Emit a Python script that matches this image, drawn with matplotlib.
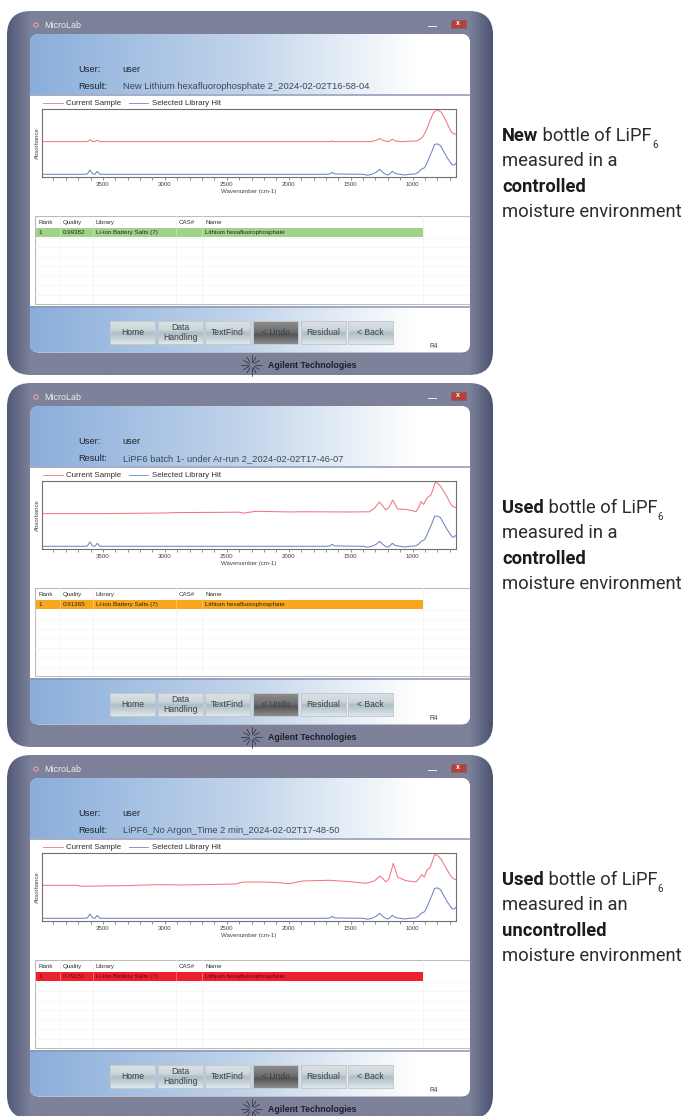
import numpy as np
import matplotlib
matplotlib.use("Agg")
import matplotlib.pyplot as plt
from matplotlib.colors import LinearSegmentedColormap
from matplotlib.patches import FancyBboxPatch, Rectangle, Circle
from matplotlib.ticker import MultipleLocator

W, H = 684, 1116

# spectra (wavenumber, absorbance on a 0-1 plot height)
hit_wn = [3992, 3700, 3650, 3625, 3605, 3585, 3565, 3546, 3525, 3400, 2200, 1700, 1665, 1650,
          1630, 1400, 1362, 1320, 1290, 1266, 1240, 1215, 1200, 1185, 1164, 1140, 1100, 1065,
          1030, 975, 950, 930, 903, 880, 863, 840, 823, 798, 775, 758, 718, 680, 665, 650]
hit_abs = [.044, .044, .044, .05, .108, .05, .044, .088, .044, .044, .044, .044, .05, .074,
           .05, .044, .03, .05, .08, .118, .07, .04, .034, .05, .088, .055, .044, .034,
           .044, .05, .08, .118, .142, .23, .304, .40, .485, .49, .465, .41, .28, .18, .18, .206]

red_wn_1 = [3992, 3640, 3620, 3605, 3585, 3565, 3546, 3525, 3400, 1660, 1650, 1640, 1340, 1300,
            1266, 1235, 1200, 1185, 1164, 1140, 1100, 970, 940, 917, 890, 863, 835, 809, 790,
            769, 750, 728, 690, 670, 650]
red_abs_1 = [.525, .525, .53, .554, .525, .53, .544, .525, .525, .525, .535, .525, .525, .54,
             .569, .54, .525, .535, .559, .535, .525, .534, .56, .598, .69, .819, .94, .99, .98,
             .956, .90, .82, .67, .64, .637]

red_wn_2 = [3992, 3500, 3000, 2900, 2500, 2400, 2360, 2300, 2269, 2100, 2000, 1900, 1500, 1350,
            1310, 1269, 1215, 1190, 1161, 1121, 1054, 973, 950, 933, 911, 887, 852, 817, 795,
            772, 731, 691, 670, 650]
red_abs_2 = [.525, .525, .534, .54, .544, .546, .532, .55, .559, .553, .549, .552, .549, .552,
             .60, .696, .578, .62, .725, .593, .588, .554, .62, .70, .66, .75, .80, .985, .97,
             .92, .80, .66, .625, .613]

red_wn_3 = [3992, 3700, 3688, 3300, 3070, 2855, 2600, 2425, 2371, 2210, 2100, 1995, 1887, 1672,
            1511, 1376, 1309, 1263, 1215, 1190, 1156, 1121, 1054, 973, 925, 906, 887, 858, 820,
            795, 772, 731, 691, 670, 650]
red_abs_3 = [.529, .529, .515, .525, .539, .534, .542, .549, .578, .578, .57, .554, .593, .603,
             .583, .559, .593, .667, .578, .63, .853, .647, .598, .578, .686, .65, .745, .794,
             .99, .96, .917, .784, .662, .625, .613]

red_wn = [red_wn_1, red_wn_2, red_wn_3]
red_abs = [red_abs_1, red_abs_2, red_abs_3]

results = ["New Lithium hexafluorophosphate 2_2024-02-02T16-58-04",
           "LiPF6 batch 1- under Ar-run 2_2024-02-02T17-46-07",
           "LiPF6_No Argon_Time 2 min_2024-02-02T17-48-50"]
qualities = ["0.99382", "0.91365", "0.79151"]
hit_colors = ["#a0d28a", "#f9a61c", "#ee1f2e"]
col_names = ["Rank", "Quality", "Library", "CAS#", "Name"]
hit_row = ["1", None, "Li-ion Battery Salts (7)", "", "Lithium hexafluorophosphate"]
buttons = ["Home", "Data\nHandling", "TextFind", "< Undo", "Residual", "< Back"]
side_bold1 = ["New", "Used", "Used"]
side_middle = ["measured in a", "measured in a", "measured in an"]
side_bold2 = ["controlled", "controlled", "uncontrolled"]

plt.rcParams["font.family"] = ["Liberation Sans", "DejaVu Sans"]

fig = plt.figure(figsize=(W / 100, H / 100), dpi=100)
ax = fig.add_axes([0, 0, 1, 1])
ax.set_axis_off()
ax.set_xlim(0, W)
ax.set_ylim(H, 0)
ax.set_autoscale_on(False)

frame_cmap = LinearSegmentedColormap.from_list(
    "frame", [(0, "#525a79"), (0.047, "#7d8199"), (0.953, "#7d8199"), (1, "#4b5472")])
head_cmap = LinearSegmentedColormap.from_list(
    "head", [(0, "#8aaedb"), (0.5, "#c3d5ea"), (0.88, "#ffffff"), (1, "#ffffff")])
btn_cmap = LinearSegmentedColormap.from_list(
    "btn", [(0, "#dce2e5"), (0.38, "#ccd6da"), (0.52, "#adbec5"), (1, "#dfe6e8")])
undo_cmap = LinearSegmentedColormap.from_list(
    "undo", [(0, "#8e8e8e"), (0.45, "#707070"), (0.6, "#565656"), (1, "#8c8c8c")])
gradient = np.linspace(0, 1, 256).reshape(1, -1)
vgradient = np.linspace(0, 1, 64).reshape(-1, 1)


def rounded(x0, y0, x1, y1, r, **kw):
    p = FancyBboxPatch((x0, y0), x1 - x0, y1 - y0, boxstyle=f"round,pad=0,rounding_size={r}", **kw)
    ax.add_patch(p)
    return p


def fill_grad(data, cmap, x0, x1, y0, y1, clip=None, z=1):
    im = ax.imshow(data, cmap=cmap, extent=(x0, x1, y1, y0), aspect="auto", zorder=z, vmin=0, vmax=1)
    if clip is not None:
        im.set_clip_path(clip)


def draw_panel(i):
    dy = 372 * i
    # outer frame
    outer = rounded(7, 11 + dy, 493, 375 + dy, 24, fc="none", ec="none", zorder=1)
    fill_grad(gradient, frame_cmap, 7, 493, 11 + dy, 375 + dy, outer)

    # title bar
    ax.add_patch(Circle((36, 25 + dy), 2.2, fc="#b8696d", ec="#d8d8e0", lw=0.5, zorder=3))
    ax.text(44.5, 25 + dy, "MicroLab", fontsize=6.4, color="#eceef2", va="center", zorder=3)
    ax.add_patch(Rectangle((428, 26 + dy), 9, 1.2, fc="#e8e8ee", zorder=3))
    ax.add_patch(Rectangle((450.5, 19.5 + dy), 15, 8, fc="#b5413c", ec="#8a5a60", lw=0.4, zorder=3))
    ax.text(458, 23.5 + dy, "x", fontsize=5, color="white", ha="center", va="center", fontweight="bold", zorder=4)

    # white body and the two gradient strips
    inner = rounded(30, 34 + dy, 470, 352.5 + dy, 9, fc="white", ec="none", zorder=2)
    for y0, y1 in [(34, 94), (307, 352.5)]:
        fill_grad(gradient, head_cmap, 30, 470, y0 + dy, y1 + dy, inner, z=3)
    for y in [94.5, 307]:
        ax.plot([30, 470], [y + dy, y + dy], color="#8b96b6", lw=1.1, zorder=4)

    ax.text(78.6, 69.5 + dy, "User:", fontsize=6.7, color="#20242c", va="center", zorder=5)
    ax.text(122.7, 69.5 + dy, "user", fontsize=6.7, color="#20242c", va="center", zorder=5)
    ax.text(78.6, 86.5 + dy, "Result:", fontsize=6.7, color="#20242c", va="center", zorder=5)
    ax.text(122.7, 86.5 + dy, results[i], fontsize=6.72, color="#3d4858", va="center", zorder=5)

    # legend row
    ax.plot([43, 62.5], [103 + dy, 103 + dy], color="#f08a90", lw=0.7, zorder=5)
    ax.text(66.5, 103.5 + dy, "Current Sample", fontsize=5.7, color="#303030", va="center", zorder=5)
    ax.plot([128.5, 148], [103 + dy, 103 + dy], color="#8896c8", lw=0.7, zorder=5)
    ax.text(152.5, 103.5 + dy, "Selected Library Hit", fontsize=5.7, color="#303030", va="center", zorder=5)

    # spectrum
    sp = fig.add_axes([42 / W, 1 - (177.3 + dy) / H, 414 / W, 68 / H])
    sp.plot(red_wn[i], red_abs[i], color="#f0767e", lw=0.75)
    sp.plot(hit_wn, hit_abs, color="#6e84c4", lw=0.75)
    sp.set_xlim(3992, 650)
    sp.set_ylim(0, 1)
    sp.set_yticks([])
    sp.xaxis.set_major_locator(MultipleLocator(500))
    sp.xaxis.set_minor_locator(MultipleLocator(100))
    sp.tick_params(axis="x", which="both", length=2.2, width=0.5, color="#666666",
                   labelsize=4.4, labelcolor="#444444", pad=1.5)
    for s in sp.spines.values():
        s.set_color("#707070")
        s.set_linewidth(0.8)
    sp.set_xlabel("Wavenumber (cm-1)", fontsize=4.4, color="#444444", labelpad=0.8)
    sp.set_ylabel("Absorbance", fontsize=4.3, color="#444444", labelpad=1.5)

    # hit table
    ax.plot([469, 34.5, 34.5, 469], [215.5 + dy, 215.5 + dy, 303.5 + dy, 303.5 + dy],
            color="#bcbcbc", lw=0.8, zorder=4)
    for y in [237.5, 246.5, 256.5, 265.5, 275.5, 284.5, 294.5]:
        ax.plot([35, 469], [y + dy, y + dy], color="#f4f4f4", lw=0.5, zorder=4)
    for x in [60, 93, 176, 202, 423]:
        ax.plot([x, x], [216 + dy, 303 + dy], color="#f2f2f2", lw=0.5, zorder=4)
    ax.plot([35, 423], [227.7 + dy, 227.7 + dy], color="#dcdcdc", lw=0.6, zorder=4)
    ax.add_patch(Rectangle((36, 228.3 + dy), 387, 8.5, fc=hit_colors[i], ec="none", zorder=5))
    for x in [60, 93, 176, 202]:
        ax.plot([x, x], [228.3 + dy, 236.8 + dy], color="#ffffff", lw=0.4, alpha=0.6, zorder=6)
    row = list(hit_row)
    row[1] = qualities[i]
    for x, name, val in zip([38.3, 62.5, 96, 178.5, 205], col_names, row):
        ax.text(x, 222.3 + dy, name, fontsize=4.5, color="#333333", va="center", zorder=6)
        ax.text(x, 232.7 + dy, val, fontsize=4.5, color="#1c2a1c" if i < 2 else "#5a0a10",
                va="center", zorder=6)

    # buttons
    for k, (label, x0, x1) in enumerate(zip(buttons, [110, 157.5, 205, 253, 300.5, 348],
                                            [155, 203, 250, 298, 345.5, 393])):
        cm = undo_cmap if label == "< Undo" else btn_cmap
        fill_grad(vgradient, cm, x0, x1, 321.3 + dy, 344 + dy, z=5)
        ax.add_patch(Rectangle((x0, 321.3 + dy), x1 - x0, 22.7, fc="none", ec="#c4c9cc", lw=0.7, zorder=6))
        ax.text((x0 + x1) / 2, 332.5 + dy, label, fontsize=6.2, color="#3a4248", ha="center",
                va="center", linespacing=1.0, zorder=7)
    ax.text(429, 347 + dy, "R4", fontsize=4.8, color="#444444", va="center", zorder=6)

    # logo
    for a in np.arange(0, 360, 30):
        ca, sa = np.cos(np.radians(a)), np.sin(np.radians(a))
        ln = 10.5 if a % 90 == 0 else 9
        ax.plot([251.5 + 3 * ca, 251.5 + ln * ca], [365 + dy + 3 * sa, 365 + dy + ln * sa],
                color="#2a2c38", lw=0.5, zorder=6)
    ax.text(268, 365 + dy, "Agilent Technologies", fontsize=6.3, fontweight="bold",
            family=["Liberation Sans Narrow", "Liberation Sans"], color="#1c1e28",
            va="center", zorder=6)

    # caption right of the window
    r = fig.canvas.get_renderer()
    kw = dict(fontsize=13.2, family="Roboto", va="center", zorder=6)
    t = ax.text(502, 136 + dy, side_bold1[i], fontweight="bold", color="#1c1c1c", **kw)
    x = t.get_window_extent(r).x1
    t = ax.text(x, 136 + dy, " bottle of LiPF", color="#2b2b2b", **kw)
    x = t.get_window_extent(r).x1
    ax.text(x + 0.5, 144.5 + dy, "6", fontsize=7, color="#2b2b2b", family="Roboto", va="center", zorder=6)
    ax.text(502, 161 + dy, side_middle[i], color="#2b2b2b", **kw)
    ax.text(502, 187 + dy, side_bold2[i], fontweight="bold", color="#1c1c1c", **kw)
    ax.text(502, 212 + dy, "moisture environment", color="#2b2b2b", **kw)


for i in range(3):
    draw_panel(i)

fig.savefig("out.png", dpi=100)
